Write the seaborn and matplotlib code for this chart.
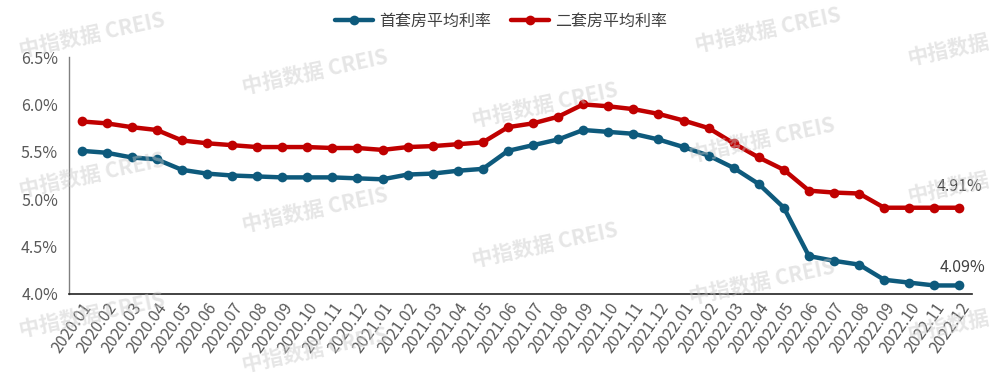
import numpy as np
import pandas as pd
import matplotlib
matplotlib.use("Agg")
import matplotlib.pyplot as plt
import seaborn as sns
from matplotlib.ticker import FuncFormatter, FixedLocator

months = ["2020.01","2020.02","2020.03","2020.04","2020.05","2020.06","2020.07","2020.08","2020.09","2020.10","2020.11","2020.12",
          "2021.01","2021.02","2021.03","2021.04","2021.05","2021.06","2021.07","2021.08","2021.09","2021.10","2021.11","2021.12",
          "2022.01","2022.02","2022.03","2022.04","2022.05","2022.06","2022.07","2022.08","2022.09","2022.10","2022.11","2022.12"]
first_home = [5.51,5.49,5.44,5.42,5.31,5.27,5.25,5.24,5.23,5.23,5.23,5.22,
              5.21,5.26,5.27,5.30,5.32,5.51,5.57,5.63,5.73,5.71,5.69,5.63,
              5.55,5.46,5.33,5.16,4.91,4.40,4.35,4.31,4.15,4.12,4.09,4.09]
second_home = [5.82,5.80,5.76,5.73,5.62,5.59,5.57,5.55,5.55,5.55,5.54,5.54,
               5.52,5.55,5.56,5.58,5.60,5.76,5.80,5.87,6.00,5.98,5.95,5.90,
               5.83,5.75,5.59,5.44,5.31,5.09,5.07,5.06,4.91,4.91,4.91,4.91]
series_names = ["首套房平均利率", "二套房平均利率"]
end_labels = ["4.09%", "4.91%"]
y_ticks = [4.0, 4.5, 5.0, 5.5, 6.0, 6.5]

BLUE = "#0E5A7C"
RED = "#C00000"

sns.set_style("white")
plt.rcParams['font.family'] = ['Noto Sans CJK SC', 'DejaVu Sans']

df = pd.DataFrame({
    "idx": list(range(len(months))) * 2,
    "rate": first_home + second_home,
    "series": [series_names[0]] * len(months) + [series_names[1]] * len(months),
})

fig = plt.figure(figsize=(10.02, 3.77), dpi=100)
ax = fig.add_axes([69/1002, 1-294/377, (972-69)/1002, (294-57)/377])

sns.lineplot(data=df, x="idx", y="rate", hue="series", hue_order=series_names,
             palette=[BLUE, RED], marker="o", markersize=7, markeredgewidth=0,
             linewidth=3.2, ax=ax, legend=True)

ax.set_xlim(-0.5, len(months) - 0.5)
ax.set_ylim(4.0, 6.5)
ax.set_yticks(y_ticks)
ax.yaxis.set_major_formatter(FuncFormatter(lambda v, p: f"{v:.1f}%"))
ax.set_xticks(range(len(months)))
ax.set_xticklabels(months, rotation=55, ha="right", rotation_mode="anchor", fontsize=11.5, color="#595959")
ax.xaxis.set_minor_locator(FixedLocator(np.arange(-0.5, len(months), 1.0)))
ax.tick_params(axis="x", which="major", length=0, pad=4)
ax.tick_params(axis="x", which="minor", length=5, width=1, color="#222222", direction="out")
ax.tick_params(axis="y", length=5, width=1, color="#808080", direction="out", labelsize=11.5, labelcolor="#595959", pad=3)
ax.set_xlabel("")
ax.set_ylabel("")
for s in ["top", "right"]:
    ax.spines[s].set_visible(False)
ax.spines["left"].set_color("#808080")
ax.spines["bottom"].set_color("#222222")
ax.spines["left"].set_linewidth(1)
ax.spines["bottom"].set_linewidth(1.2)

# end labels
ax.annotate(end_labels[1], (len(months) - 1, second_home[-1]), xytext=(0, 9), textcoords="offset points",
            ha="center", va="bottom", fontsize=11.5, color="#404040")
ax.annotate(end_labels[0], (len(months) - 1, first_home[-1]), xytext=(2, 7), textcoords="offset points",
            ha="center", va="bottom", fontsize=11.5, color="#404040")

leg = ax.legend(loc="center", bbox_to_anchor=(0.5, 1-21/377), bbox_transform=fig.transFigure,
                ncol=2, frameon=False, fontsize=11.5, handlelength=2.4, columnspacing=1.2, handletextpad=0.4)
for t in leg.get_texts():
    t.set_color("#404040")

# watermarks
wm_full = [(92, 35), (92, 175), (92, 315), (315, 72), (315, 210), (315, 350),
           (545, 105), (545, 245), (768, 30), (762, 140), (762, 282)]
for (px, py) in wm_full:
    fig.text(px/1002, 1-py/377, "中指数据 CREIS", rotation=12, ha="center", va="center",
             fontsize=15, fontweight="bold", color="#c8c8c8", alpha=0.45, zorder=10)
wm_short = [(948, 50), (948, 188), (948, 326)]
for (px, py) in wm_short:
    fig.text(px/1002, 1-py/377, "中指数据", rotation=12, ha="center", va="center",
             fontsize=15, fontweight="bold", color="#c8c8c8", alpha=0.45, zorder=10)

fig.savefig("out.png", dpi=100)
